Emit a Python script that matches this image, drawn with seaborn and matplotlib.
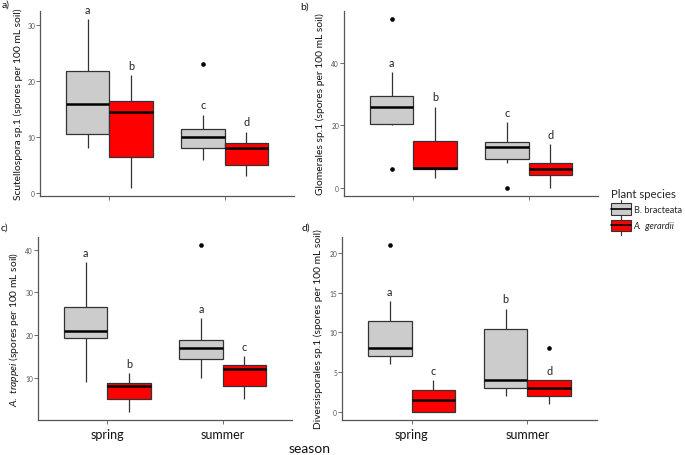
import matplotlib
matplotlib.use("Agg")
import matplotlib.pyplot as plt
import seaborn as sns
import numpy as np
import pandas as pd
from matplotlib.patches import Rectangle, Patch
from matplotlib.lines import Line2D
from matplotlib.legend_handler import HandlerBase

seasons = ["spring", "summer"]
species = ["B. bracteata", "A.  gerardii"]
palette = {"B. bracteata": "#cccccc", "A.  gerardii": "#ff0000"}

# spore counts per sample (9 samples per group)
scut_spring_bb = [8, 9, 10.5, 13, 16, 19, 21.8, 26, 31]
scut_spring_ag = [1, 4, 6.5, 10, 14.5, 15, 16.5, 19, 21]
scut_summer_bb = [6, 7, 8, 9, 10, 11, 11.5, 14, 23]
scut_summer_ag = [3, 4, 5, 7, 8, 8.5, 9, 10, 11]
scut_letters = ["a", "b", "c", "d"]
scut_ticks = [0, 10, 20, 30]

glom_spring_bb = [6, 20, 20.4, 24, 26, 28, 29.4, 37, 54]
glom_spring_ag = [3, 5, 6, 6.2, 6.4, 10, 14.8, 20, 26]
glom_summer_bb = [0, 8, 9.2, 11, 13, 14, 14.7, 18, 21]
glom_summer_ag = [0, 2, 4, 5, 6, 7, 8, 11, 14]
glom_letters = ["a", "b", "c", "d"]
glom_ticks = [0, 20, 40]

trap_spring_bb = [9, 15, 19.3, 20, 21, 24, 26.5, 31, 37]
trap_spring_ag = [2, 3, 5, 7, 8, 8.5, 8.7, 10, 11]
trap_summer_bb = [10, 12, 14.3, 16, 17, 18, 18.7, 24, 41]
trap_summer_ag = [5, 6, 8, 11, 12, 12.5, 13, 14, 15]
trap_letters = ["a", "b", "a", "c"]
trap_ticks = [10, 20, 30, 40]

div_spring_bb = [6, 6.5, 7, 7.5, 8, 10, 11.5, 14, 21]
div_spring_ag = [0, 0, 0, 1, 1.5, 2, 2.7, 3, 4]
div_summer_bb = [2, 2.5, 3, 3.5, 4, 7, 10.5, 12, 13]
div_summer_ag = [1, 1.5, 2, 2.5, 3, 3.5, 4, 4, 8]
div_letters = ["a", "c", "b", "d"]
div_ticks = [0, 5, 10, 15, 20]

panels = [
    ("a)", "Scutellospora sp.1 (spores per 100 mL soil)",
     [scut_spring_bb, scut_spring_ag, scut_summer_bb, scut_summer_ag], scut_letters, scut_ticks),
    ("b)", "Glomerales sp.1 (spores per 100 mL soil)",
     [glom_spring_bb, glom_spring_ag, glom_summer_bb, glom_summer_ag], glom_letters, glom_ticks),
    ("c)", r"$\mathit{A.\ trappei}$ (spores per 100 mL soil)",
     [trap_spring_bb, trap_spring_ag, trap_summer_bb, trap_summer_ag], trap_letters, trap_ticks),
    ("d)", "Diversisporales sp.1 (spores per 100 mL soil)",
     [div_spring_bb, div_spring_ag, div_summer_bb, div_summer_ag], div_letters, div_ticks),
]

sns.set_theme(style="ticks")
plt.rcParams["font.family"] = ["Lato", "DejaVu Sans"]
plt.rcParams["mathtext.fontset"] = "custom"
plt.rcParams["mathtext.rm"] = "Lato"
plt.rcParams["mathtext.it"] = "Lato:italic"

W, H = 685, 456
fig = plt.figure(figsize=(W / 100, H / 100), dpi=100)

# panel boxes in pixels: left, top, right, bottom
boxes = [(40, 12, 294, 197), (344, 12, 598, 197), (38, 238, 292, 421), (342, 238, 597, 421)]
letter_pos = [(2, 5), (300, 7), (1, 228), (301, 228)]
label_x = [-0.066, -0.076, -0.066, -0.076]

keys = [(s, sp) for s in seasons for sp in species]
box_width = 0.75

for i, (tag, ylab, groups, letters, ticks) in enumerate(panels):
    l, t, r, b = boxes[i]
    ax = fig.add_axes([l / W, 1 - b / H, (r - l) / W, (b - t) / H])
    df = pd.DataFrame(
        [(s, sp, v) for (s, sp), vals in zip(keys, groups) for v in vals],
        columns=["season", "species", "spores"],
    )
    sns.boxplot(data=df, x="season", y="spores", hue="species", order=seasons,
                hue_order=species, palette=palette, saturation=1, width=box_width,
                gap=0, linewidth=0.9, linecolor="#333333", whis=1.5, fliersize=2.3,
                flierprops=dict(marker="o", markerfacecolor="black", markeredgecolor="black"),
                medianprops=dict(color="black", linewidth=1.8),
                capprops=dict(linewidth=0), legend=False, ax=ax)

    # significance letters above the upper whisker
    for j, ((s, sp), vals) in enumerate(zip(keys, groups)):
        q1, q3 = np.percentile(vals, [25, 75])
        top = max(v for v in vals if v <= q3 + 1.5 * (q3 - q1))
        xpos = seasons.index(s) + (species.index(sp) - 0.5) * box_width / 2
        ax.annotate(letters[j], (xpos, top), xytext=(0, 7), textcoords="offset points",
                    ha="center", va="center", fontsize=7.8, color="#222222")

    allv = np.concatenate(groups)
    pad = 0.05 * (allv.max() - allv.min())
    ax.set_ylim(allv.min() - pad, allv.max() + pad)
    ax.set_xlim(-0.6, 1.6)
    ax.set_yticks(ticks)
    sns.despine(ax=ax)
    for sp_name in ["left", "bottom"]:
        ax.spines[sp_name].set_color("#555555")
        ax.spines[sp_name].set_linewidth(0.9)
    ax.tick_params(axis="y", length=2.8, width=0.6, color="#555555",
                   labelsize=4.8, labelcolor="#555555", pad=0.8)
    ax.tick_params(axis="x", length=2.8, width=0.6, color="#555555",
                   labelsize=9, labelcolor="#111111", pad=3)
    if i < 2:
        ax.tick_params(axis="x", labelbottom=False)
    ax.set_xlabel("")
    ax.set_ylabel(ylab, fontsize=7.4, color="#111111")
    ax.yaxis.set_label_coords(label_x[i], 0.5)
    ax.set_facecolor("white")
    fig.text(letter_pos[i][0] / W, 1 - letter_pos[i][1] / H, tag, fontsize=7.5,
             ha="left", va="center", color="#111111")

fig.text(310 / W, 1 - 449 / H, "season", fontsize=10, ha="center", va="center", color="#111111")


class BoxKeyHandler(HandlerBase):
    def create_artists(self, legend, orig_handle, xdescent, ydescent, width, height, fontsize, trans):
        x0, y0 = -xdescent, -ydescent
        cx = x0 + width / 2
        ext = height * 0.3
        whisker = Line2D([cx, cx], [y0 - ext, y0 + height + ext], color="#333333", lw=0.8, transform=trans)
        box = Rectangle((x0, y0), width, height, facecolor=orig_handle.get_facecolor(),
                        edgecolor="#333333", lw=0.8, transform=trans)
        med = Line2D([x0, x0 + width], [y0 + height / 2] * 2, color="black", lw=1.2, transform=trans)
        return [whisker, box, med]


handles = [Patch(facecolor=palette[sp]) for sp in species]
leg = fig.legend(handles, species, title="Plant species", loc="upper left",
                 bbox_to_anchor=(606 / W, 1 - 184 / H), frameon=False, fontsize=6.6,
                 title_fontsize=8.2, handlelength=2.2, handleheight=1.6, handletextpad=0.3,
                 labelspacing=0.5, borderpad=0, alignment="left",
                 handler_map={Patch: BoxKeyHandler()})
leg.get_texts()[1].set_style("italic")

fig.savefig("out.png", dpi=100)
